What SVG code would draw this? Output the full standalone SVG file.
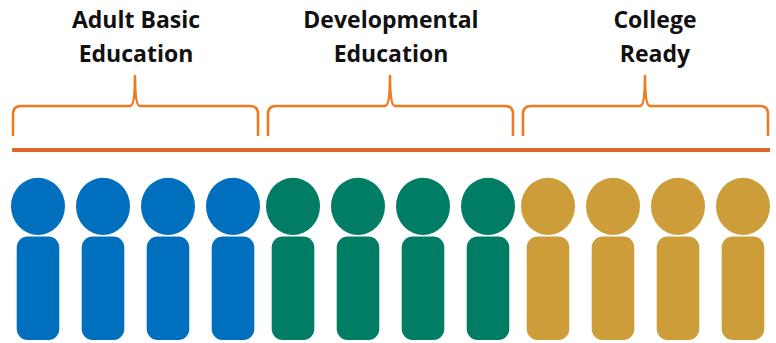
<svg xmlns="http://www.w3.org/2000/svg" width="776" height="343" viewBox="0 0 776 343">
<style>
.lbl{font-family:"Open Sans","Liberation Sans",sans-serif;font-weight:700;font-size:23px;fill:#111;text-anchor:middle}
.brace{fill:none;stroke:#EE7A22;stroke-width:2.6;stroke-linejoin:round;stroke-linecap:butt}
.base{stroke:#E0662A;stroke-width:4}
.blue{fill:#0070BE}
.green{fill:#007D64}
.gold{fill:#CD9D3A}
</style>
<defs>
<g id="person">
<ellipse cx="0" cy="206.3" rx="27" ry="28.6"/>
<rect x="-21.3" y="236.5" width="42.6" height="103.5" rx="11"/>
</g>
</defs>
<rect width="776" height="343" fill="#fff"/>
<g id="label-abe">
<text class="lbl" x="136" y="28">Adult Basic</text>
<text class="lbl" x="136" y="62">Education</text>
</g>
<g id="label-dev">
<text class="lbl" x="391" y="28">Developmental</text>
<text class="lbl" x="391" y="62">Education</text>
</g>
<g id="label-cr">
<text class="lbl" x="655" y="28">College</text>
<text class="lbl" x="655" y="62">Ready</text>
</g>
<g id="connectors">
<path class="brace" d="M13 136 L13 114 Q13 106 21 106 L130 106 Q135 106 135 76 Q135 106 140 106 L250 106 Q258 106 258 114 L258 136"/>
<path class="brace" d="M268 136 L268 114 Q268 106 276 106 L385 106 Q390 106 390 76 Q390 106 395 106 L505 106 Q513 106 513 114 L513 136"/>
<path class="brace" d="M523 136 L523 114 Q523 106 531 106 L640 106 Q645 106 645 76 Q645 106 650 106 L760 106 Q768 106 768 114 L768 136"/>
<line class="base" x1="12" y1="150" x2="770" y2="150"/>
</g>
<g id="abe-group" class="blue">
<use href="#person" x="38"/>
<use href="#person" x="103"/>
<use href="#person" x="168"/>
<use href="#person" x="233"/>
</g>
<g id="dev-group" class="green">
<use href="#person" x="293"/>
<use href="#person" x="358"/>
<use href="#person" x="423"/>
<use href="#person" x="488"/>
</g>
<g id="cr-group" class="gold">
<use href="#person" x="548"/>
<use href="#person" x="613"/>
<use href="#person" x="678"/>
<use href="#person" x="743"/>
</g>
</svg>
